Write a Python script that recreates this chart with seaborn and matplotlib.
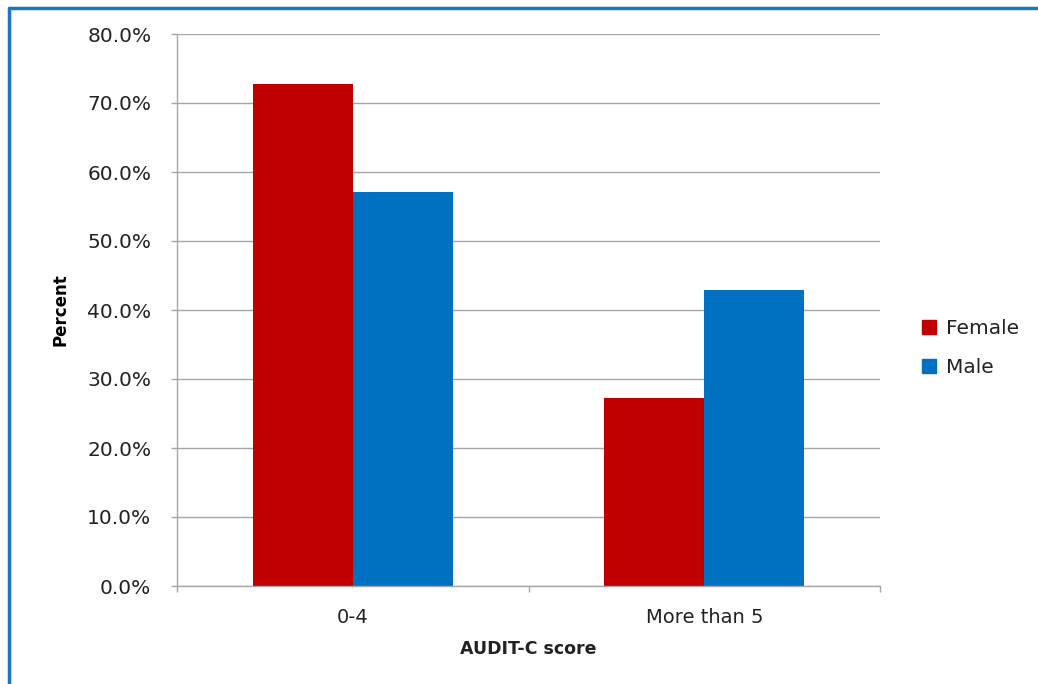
import matplotlib
matplotlib.use("Agg")
import matplotlib.pyplot as plt
from matplotlib.lines import Line2D
from matplotlib.ticker import FixedLocator, FuncFormatter
import seaborn as sns
import pandas as pd

# AUDIT-C score groups and share of respondents (%) by sex
categories = ["0-4", "More than 5"]
female = [72.7, 27.3]
male = [57.1, 42.9]
series = ["Female", "Male"]
y_ticks = [0, 10, 20, 30, 40, 50, 60, 70, 80]

df = pd.DataFrame({
    "score": categories * 2,
    "percent": female + male,
    "sex": [series[0]] * len(categories) + [series[1]] * len(categories),
})

sns.set_theme(style="white")
plt.rcParams["font.family"] = ["DejaVu Sans"]

fig = plt.figure(figsize=(10.38, 6.84), dpi=100)
ax = fig.add_axes([177 / 1038, 1 - 586 / 684, (880 - 177) / 1038, (586 - 34) / 684])

palette = {"Female": "#C00000", "Male": "#0070C0"}
sns.barplot(data=df, x="score", y="percent", hue="sex", order=categories,
            hue_order=series, palette=palette, width=0.57, saturation=1,
            linewidth=0, ax=ax, legend=False)

grid_c = "#a6a6a6"
ax.set_ylim(0, 80)
ax.set_xlim(-0.5, 1.5)
ax.yaxis.set_major_locator(FixedLocator(y_ticks))
ax.yaxis.set_major_formatter(FuncFormatter(lambda v, _: f"{v:.1f}%"))
ax.yaxis.grid(True, color=grid_c, linewidth=1)
ax.set_axisbelow(True)

for s in ["top", "right"]:
    ax.spines[s].set_visible(False)
for s in ["left", "bottom"]:
    ax.spines[s].set_color(grid_c)
    ax.spines[s].set_linewidth(1)

ax.tick_params(axis="y", which="major", left=True, length=4.5, width=1,
               color=grid_c, labelsize=14.5, labelcolor="#222222", pad=14)
ax.tick_params(axis="x", which="major", bottom=False, labelsize=14,
               labelcolor="#222222", pad=10)
ax.set_xticks([-0.5, 0.5, 1.5], minor=True)
ax.tick_params(axis="x", which="minor", bottom=True, length=4.5, width=1,
               color=grid_c)

ax.set_ylabel("Percent", fontsize=12, fontweight="bold", color="black", labelpad=13)
ax.set_xlabel("AUDIT-C score", fontsize=12.5, fontweight="bold",
              color="#222222", labelpad=9)

handles = [plt.Rectangle((0, 0), 1, 1, color=palette[s]) for s in series]
fig.legend(handles, series, loc="center left",
           bbox_to_anchor=(904 / 1038, 1 - 348 / 684), frameon=False,
           fontsize=14.5, handlelength=0.7, handleheight=0.7,
           handletextpad=0.5, labelspacing=1.0, labelcolor="#222222")

# Outer frame: blue rule along the top and left edge
frame_c = "#1f74c4"
fig.add_artist(Line2D([9 / 1038, 1], [1 - 8 / 684, 1 - 8 / 684],
                      color=frame_c, linewidth=2.5, transform=fig.transFigure))
fig.add_artist(Line2D([9 / 1038, 9 / 1038], [0, 1 - 8 / 684],
                      color=frame_c, linewidth=2.5, transform=fig.transFigure))

fig.savefig("out.png", dpi=100, facecolor="white")
